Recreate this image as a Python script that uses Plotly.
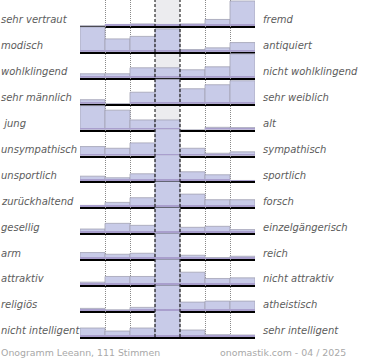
import plotly.graph_objects as go
from plotly.subplots import make_subplots

left_labels = ["sehr vertraut", "modisch", "wohlklingend", "sehr männlich", " jung",
               "unsympathisch", "unsportlich", "zurückhaltend", "gesellig", "arm",
               "attraktiv", "religiös", "nicht intelligent"]
right_labels = ["fremd", "antiquiert", "nicht wohlklingend", "sehr weiblich", "alt",
                "sympathisch", "sportlich", "forsch", "einzelgängerisch", "reich",
                "nicht attraktiv", "atheistisch", "sehr intelligent"]
scale_points = [1, 2, 3, 4, 5, 6, 7]

# bar heights per row (row height = 26 units; larger values are clipped)
v_vertraut = [0, 1.5, 2, 1.5, 2, 6.5, 25]
v_modisch = [25, 13, 15.5, 23, 2.3, 4, 9.3]
v_wohlklingend = [4, 4, 10, 10, 8, 11, 24]
v_maennlich = [4, 0, 11.5, 24.5, 15, 19, 23]
v_jung = [24, 19.5, 9.7, 9.7, 0, 2.3, 2]
v_unsympathisch = [9, 7.3, 12.7, 30, 7.3, 2.3, 3.7]
v_unsportlich = [5.3, 3.7, 7.7, 30, 9.7, 6.7, 1]
v_zurueckhaltend = [2, 5, 9.7, 30, 13.3, 7.7, 7.7]
v_gesellig = [4.3, 10, 8, 30, 6, 7, 3.7]
v_arm = [6.7, 5, 6, 30, 4, 1.7, 3]
v_attraktiv = [3, 8.7, 8.7, 30, 13, 6.7, 7.3]
v_religioes = [2.7, 1.3, 3.7, 30, 9, 10, 10]
v_intelligent = [9, 6, 9, 30, 7, 2.3, 2]

rows = [v_vertraut, v_modisch, v_wohlklingend, v_maennlich, v_jung, v_unsympathisch,
        v_unsportlich, v_zurueckhaltend, v_gesellig, v_arm, v_attraktiv, v_religioes,
        v_intelligent]

footer_left = "Onogramm Leeann, 111 Stimmen"
footer_right = "onomastik.com - 04 / 2025"

ROW_MAX = 26
n = len(rows)
fig = make_subplots(rows=n, cols=1, vertical_spacing=0, shared_xaxes=False)

for i, vals in enumerate(rows):
    r = i + 1
    fig.add_trace(go.Bar(x=scale_points, y=vals, width=1,
                         marker=dict(color="#c8cbe8", line=dict(color="#a2a2b4", width=0.8)),
                         showlegend=False, hoverinfo="skip"), row=r, col=1)
    fig.add_trace(go.Bar(x=scale_points, y=[min(v, 2) for v in vals], width=1,
                         marker=dict(color="#a99fcd", line=dict(width=0)),
                         showlegend=False, hoverinfo="skip"), row=r, col=1)
    fig.update_yaxes(range=[0, ROW_MAX], showgrid=False, zeroline=False,
                     showticklabels=False, fixedrange=True, row=r, col=1)
    fig.update_xaxes(range=[0.5, 7.5], tickvals=[0.5, 1.5, 2.5, 5.5, 6.5, 7.5],
                     showticklabels=False, ticks="", showgrid=True, gridcolor="#8a8a8a",
                     gridwidth=1, griddash="1px,1px", zeroline=False, fixedrange=True,
                     showline=True, linecolor="#000000", linewidth=2,
                     row=r, col=1)
    yd = "y domain" if r == 1 else f"y{r} domain"
    fig.add_annotation(text=left_labels[i], xref="paper", x=-0.463, xanchor="left",
                       yref=yd, y=0.24, yanchor="middle", showarrow=False,
                       font=dict(family="DejaVu Sans", size=10, color="#5c5c5c", style="italic"))
    fig.add_annotation(text=right_labels[i], xref="paper", x=1.037, xanchor="left",
                       yref=yd, y=0.24, yanchor="middle", showarrow=False,
                       font=dict(family="DejaVu Sans", size=10, color="#5c5c5c", style="italic"))

# neutral column background and dashed borders
fig.add_shape(type="rect", xref="x", yref="paper", x0=3.5, x1=4.5, y0=0, y1=1,
              fillcolor="#ececef", line=dict(width=0), layer="below")
for xb in (3.5, 4.5):
    fig.add_shape(type="line", xref="x", yref="paper", x0=xb, x1=xb, y0=0, y1=1,
                  line=dict(color="#000000", width=1, dash="3px,2px"), layer="above")

fig.add_annotation(text=footer_left, xref="paper", x=-0.463, xanchor="left",
                   yref="paper", y=-0.045, yanchor="middle", showarrow=False,
                   font=dict(family="DejaVu Sans", size=9.4, color="#a8a8a8"))
fig.add_annotation(text=footer_right, xref="paper", x=1.53, xanchor="right",
                   yref="paper", y=-0.045, yanchor="middle", showarrow=False,
                   font=dict(family="DejaVu Sans", size=9.4, color="#a8a8a8"))

fig.update_layout(width=370, height=360, barmode="overlay", bargap=0,
                  margin=dict(l=80, r=115, t=0, b=23),
                  paper_bgcolor="#ffffff", plot_bgcolor="rgba(0,0,0,0)")

fig.write_html("out.html", config={"displayModeBar": False, "staticPlot": True},
               post_script="document.body.style.margin='0';document.body.style.overflow='hidden';")
